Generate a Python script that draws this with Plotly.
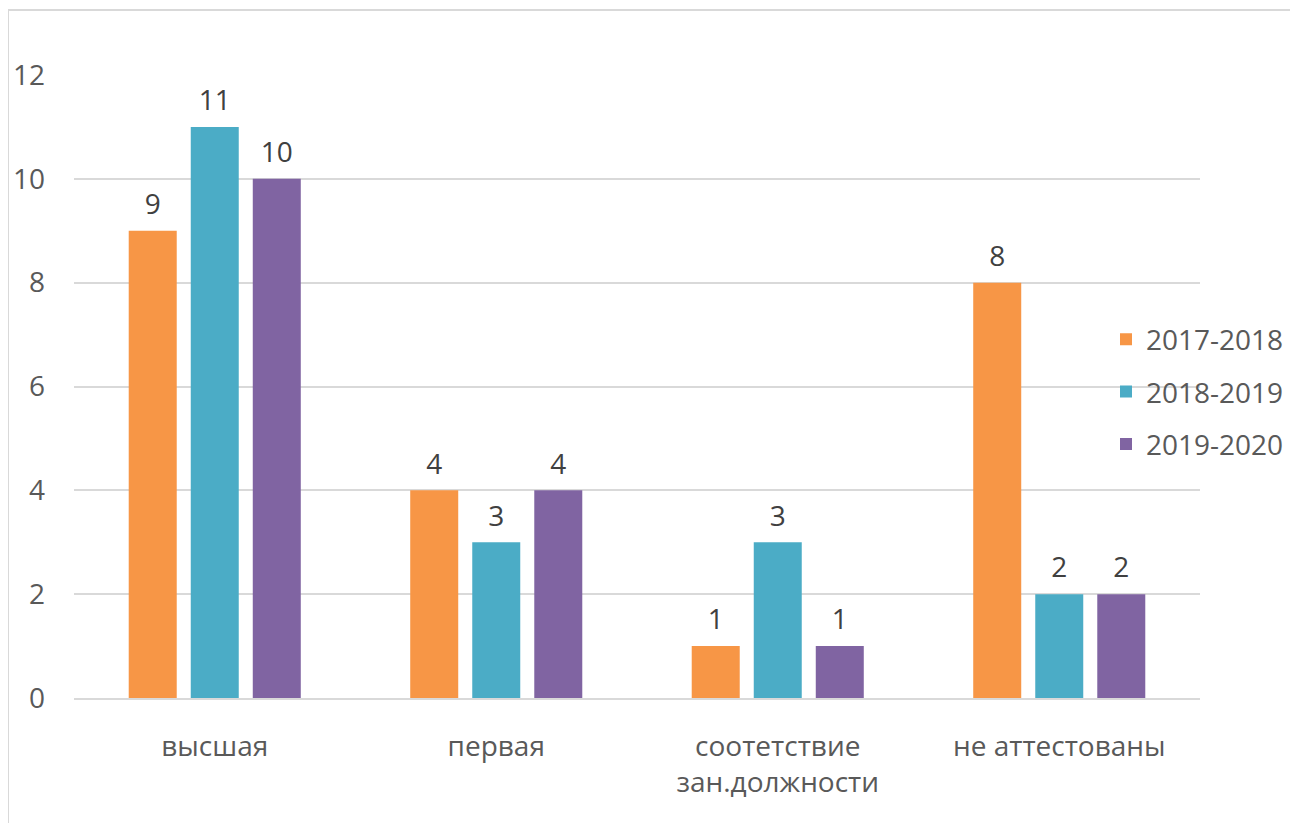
import plotly.graph_objects as go

categories = ["высшая", "первая", "соотетствие<br>зан.должности", "не аттестованы"]
series_names = ["2017-2018", "2018-2019", "2019-2020"]
values_2017 = [9, 4, 1, 8]
values_2018 = [11, 3, 3, 2]
values_2019 = [10, 4, 1, 2]
colors = ["#F79646", "#4BACC6", "#8064A2"]
y_ticks = [0, 2, 4, 6, 8, 10, 12]

FONT = "Open Sans"
TXT = "#595959"
FS = 28
BARGAP = 0.339

fig = go.Figure()
all_vals = [values_2017, values_2018, values_2019]
for i, (name, vals) in enumerate(zip(series_names, all_vals)):
    fig.add_trace(go.Bar(
        x=categories, y=vals, name=name,
        marker=dict(color=colors[i], line=dict(width=0)),
        cliponaxis=False, legendgroup=name, offsetgroup=str(i),
    ))
# data labels as grouped text-scatter so they sit a bit higher above bars (like Excel)
for i, (name, vals) in enumerate(zip(series_names, all_vals)):
    fig.add_trace(go.Scatter(
        x=categories, y=vals, mode="markers+text", showlegend=False,
        marker=dict(size=14, opacity=0, color=colors[i]),
        text=[str(v) for v in vals], textposition="top center",
        textfont=dict(family=FONT, size=FS, color="#404040"),
        cliponaxis=False, offsetgroup=str(i), hoverinfo="skip",
    ))

# page body has an 8px margin; figure is sized/offset to compensate
W, H = 1290, 815
L, R, T, B = 66, 98, 67, 125
pw, ph = W - L - R, H - T - B

fig.update_layout(
    width=W, height=H,
    margin=dict(l=L, r=R, t=T, b=B, autoexpand=False),
    paper_bgcolor="white", plot_bgcolor="white",
    barmode="group", bargap=BARGAP, bargroupgap=0.226,
    scattermode="group", scattergap=BARGAP,
    font=dict(family=FONT, size=FS, color=TXT),
    showlegend=True,
    legend=dict(
        x=(1098 - L) / pw, xanchor="left",
        y=(H - B - 384) / ph, yanchor="middle",
        font=dict(family=FONT, size=FS, color=TXT),
        traceorder="grouped", tracegroupgap=13,
        bgcolor="rgba(0,0,0,0)", itemwidth=30,
    ),
    xaxis=dict(
        showgrid=False, showline=True, linecolor="#D9D9D9", linewidth=2,
        ticks="", tickfont=dict(family=FONT, size=FS, color=TXT),
        ticklabelstandoff=22,
    ),
    yaxis=dict(
        range=[0, 12], tickvals=y_ticks, showgrid=True, gridcolor="#D9D9D9",
        gridwidth=2, zeroline=False, showline=False, ticks="",
        tickfont=dict(family=FONT, size=FS, color=TXT),
        ticklabelstandoff=28,
    ),
    shapes=[dict(
        type="rect", xref="paper", yref="paper",
        x0=(0 - L) / pw, x1=(1289 - L) / pw,
        y0=(H - B - 840) / ph, y1=(H - B - 2) / ph,
        line=dict(color="#D9D9D9", width=2), fillcolor="rgba(0,0,0,0)", layer="below",
    )],
)

fig.write_html("out.html")
